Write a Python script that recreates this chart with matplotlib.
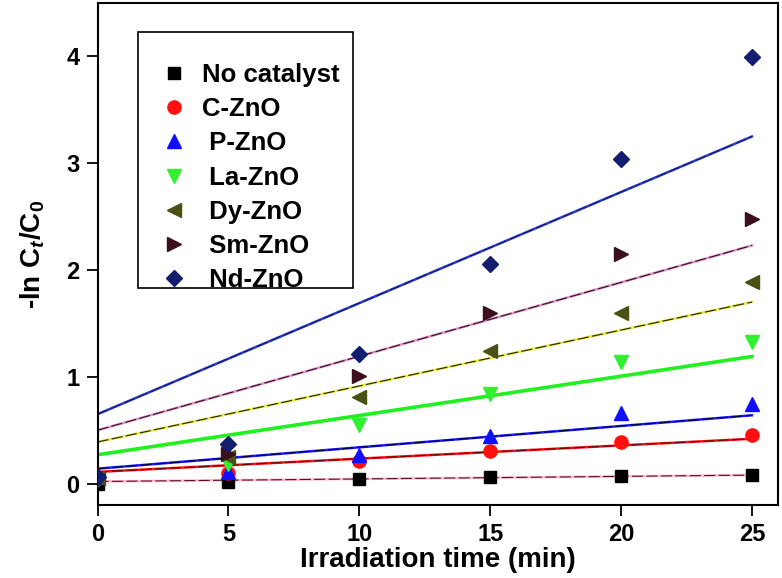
import matplotlib
matplotlib.use('Agg')
import matplotlib.pyplot as plt
from matplotlib.patches import Rectangle

plt.rcParams['font.family'] = 'Liberation Sans'
plt.rcParams['font.weight'] = 'bold'
plt.rcParams['mathtext.fontset'] = 'custom'
plt.rcParams['mathtext.rm'] = 'Liberation Sans:bold'
plt.rcParams['mathtext.it'] = 'Liberation Sans:bold:italic'
plt.rcParams['mathtext.bf'] = 'Liberation Sans:bold'

# irradiation time (min)
time = [0, 5, 10, 15, 20, 25]

# -ln(Ct/C0) per sample
no_catalyst = [0.0, 0.02, 0.04, 0.06, 0.07, 0.08]
c_zno = [0.05, 0.10, 0.21, 0.31, 0.39, 0.46]
p_zno = [0.06, 0.11, 0.27, 0.45, 0.66, 0.75]
la_zno = [0.04, 0.18, 0.55, 0.84, 1.14, 1.33]
dy_zno = [0.05, 0.25, 0.81, 1.24, 1.60, 1.89]
sm_zno = [0.08, 0.28, 1.01, 1.60, 2.15, 2.48]
nd_zno = [0.06, 0.37, 1.21, 2.06, 3.04, 3.99]

# linear fit lines, value at t=0 and t=25
fit_t = [0, 25]
fit_no = [0.02, 0.08]
fit_c = [0.11, 0.42]
fit_p = [0.14, 0.64]
fit_la = [0.27, 1.19]
fit_dy = [0.39, 1.70]
fit_sm = [0.50, 2.23]
fit_nd = [0.65, 3.25]

labels = ['No catalyst', 'C-ZnO', ' P-ZnO', ' La-ZnO', ' Dy-ZnO', ' Sm-ZnO', ' Nd-ZnO']
series = [no_catalyst, c_zno, p_zno, la_zno, dy_zno, sm_zno, nd_zno]
fits = [fit_no, fit_c, fit_p, fit_la, fit_dy, fit_sm, fit_nd]
markers = ['s', 'o', '^', 'v', '<', '>', 'D']
colors = ['#000000', '#ff1010', '#1010ff', '#30f030', '#4b5014', '#3c0f1c', '#141e6e']
sizes = [9, 9.5, 10, 10, 10, 10, 8]
# base colour of each fit line and the darker stroke drawn over it
line_base = ['#ffb8cc', '#ff1010', '#1a1aff', '#20f020', '#e8e840', '#e090c8', '#2a3acc']
line_top = ['#5a1020', '#600010', '#000040', None, '#202000', '#301020', '#141e6e']

fig = plt.figure(figsize=(7.82, 5.78), dpi=100)
ax = fig.add_axes([0.1247, 0.1263, 0.8703, 0.8685])

for f, base, top, lw in zip(fits, line_base, line_top, [1.8, 1.8, 1.8, 2.6, 1.8, 1.8, 1.8]):
    ax.plot(fit_t, f, color=base, lw=lw, zorder=2)
    if top is not None:
        ax.plot(fit_t, f, color=top, lw=0.8, dashes=(10, 3), zorder=2.1)

handles = []
for y, m, c, s, lab in zip(series, markers, colors, sizes, labels):
    h, = ax.plot(time, y, linestyle='none', marker=m, color=c, markersize=s,
                 label=lab, zorder=3)
    handles.append(h)

ax.set_xlim(0, 26)
ax.set_ylim(-0.2, 4.5)
ax.set_xticks([0, 5, 10, 15, 20, 25])
ax.set_yticks([0, 1, 2, 3, 4])
ax.tick_params(direction='out', length=8, width=1.3, labelsize=17, pad=5)
for sp in ax.spines.values():
    sp.set_linewidth(1.5)

ax.set_xlabel('Irradiation time (min)', fontsize=20, fontweight='bold', labelpad=1)
ax.set_ylabel('-ln C$_t$/C$_0$', fontsize=20, fontweight='bold', labelpad=14)

ax.add_patch(Rectangle((0.0595, 0.432), 0.316, 0.51, transform=ax.transAxes,
                       fill=False, edgecolor='black', lw=1.2, zorder=4))
ax.legend(handles=handles, loc='upper left', bbox_to_anchor=(0.093, 0.881),
          frameon=False, borderpad=0, borderaxespad=0,
          handlelength=1.0, handletextpad=0.6, labelspacing=0.4,
          prop={'weight': 'bold', 'size': 18.5})

fig.savefig('out.png', dpi=100)
